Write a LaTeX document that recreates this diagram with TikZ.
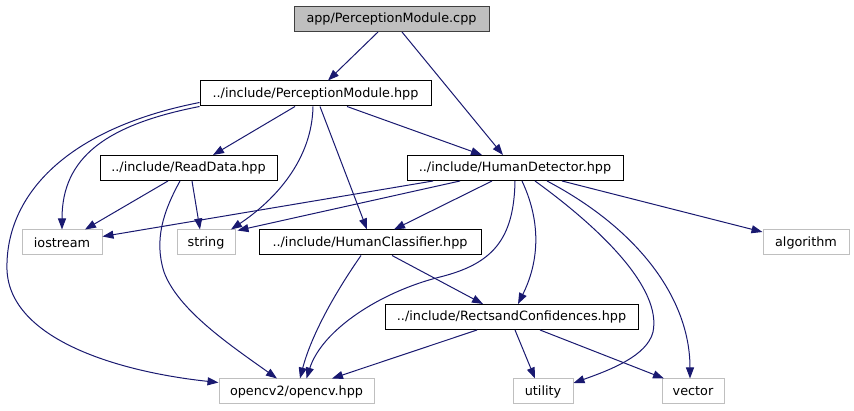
\documentclass[tikz,border=0pt]{standalone}
\usepackage{fontspec}
\setmainfont{DejaVu Sans}
\usepackage{xcolor}
\usetikzlibrary{arrows.meta,calc}
\definecolor{edge}{HTML}{191970}
\definecolor{extgray}{HTML}{BFBFBF}
\definecolor{curgray}{HTML}{404040}

\begin{document}
\begin{tikzpicture}[x=1pt,y=-1pt,font=\fontsize{12.8}{15}\selectfont,
  inc/.style={draw=black,line width=1pt,fill=white,inner sep=0pt,minimum height=25pt},
  ext/.style={draw=extgray,line width=1pt,fill=white,inner sep=0pt,minimum height=25pt},
  cur/.style={draw=curgray,line width=1pt,fill=extgray,inner sep=0pt,minimum height=25pt},
  arr/.style={-{Triangle[length=11pt,width=8pt]},edge,line width=1pt}]
\useasboundingbox (0,0) rectangle (854,411);
% files
\node[cur,minimum width=195pt] (cpp) at (391.5,19) {app/PerceptionModule.cpp};
\node[inc,minimum width=231pt] (pm) at (315.5,93.5) {../include/PerceptionModule.hpp};
\node[inc,minimum width=177pt] (rd) at (188.5,168) {../include/ReadData.hpp};
\node[inc,minimum width=216pt] (hd) at (515,168) {../include/HumanDetector.hpp};
\node[ext,minimum width=80pt] (ios) at (62,242.5) {iostream};
\node[ext,minimum width=58pt] (str) at (206,242.5) {string};
\node[inc,minimum width=222pt] (hc) at (370,242.5) {../include/HumanClassifier.hpp};
\node[ext,minimum width=86pt] (alg) at (806,242.5) {algorithm};
\node[inc,minimum width=253pt] (rc) at (511.5,317) {../include/RectsandConfidences.hpp};
\node[ext,minimum width=155pt] (cv) at (296.5,391.5) {opencv2/opencv.hpp};
\node[ext,minimum width=60pt] (ut) at (543,391.5) {utility};
\node[ext,minimum width=62pt] (vec) at (693,391.5) {vector};
% app/PerceptionModule.cpp
\draw[arr] ([xshift=-13.5]cpp.south) -- ([xshift=12.5]pm.north);
\draw[arr] ([xshift=10.5]cpp.south) -- ([xshift=-12]hd.north);
% PerceptionModule.hpp
\draw[arr] ([xshift=-20.5]pm.south) -- ([xshift=24.5]rd.north);
\draw[arr] ([xshift=31.5]pm.south) -- ([xshift=-33]hd.north);
\draw[arr] ([xshift=4.5]pm.south) -- ([xshift=-3]hc.north);
\draw[arr] ([xshift=-2.5]pm.south) .. controls (312,160) and (275,200) .. ([xshift=25]str.north);
\draw[arr] (pm.south west) .. controls (105,125) and (62,158) .. (ios.north);
\draw[arr] ([yshift=4]pm.south west) .. controls (60,130) and (5,200) .. (7,270)
  .. controls (10,340) and (120,372) .. ([yshift=9]cv.west);
% ReadData.hpp
\draw[arr] ([xshift=-20.5]rd.south) -- ([xshift=23]ios.north);
\draw[arr] ([xshift=3.5]rd.south) -- ([xshift=-6]str.north);
\draw[arr] ([xshift=-8.5]rd.south) .. controls (163,212) and (154,240) .. (164,272)
  .. controls (178,310) and (230,345) .. ([xshift=-19.5]cv.north);
% HumanDetector.hpp
\draw[arr] ([xshift=-82]hd.south) -- ([yshift=6]ios.east);
\draw[arr] ([xshift=-55]hd.south) -- ([xshift=2,yshift=-1]str.north east);
\draw[arr] ([xshift=-23]hd.south) -- ([xshift=24]hc.north);
\draw[arr] (hd.south) .. controls (514,240) and (492,264) .. (440,277)
  .. controls (380,292) and (322,330) .. ([xshift=10]cv.north);
\draw[arr] ([xshift=7]hd.south) .. controls (545,230) and (535,270) .. ([xshift=6.5]rc.north);
\draw[arr] ([xshift=20]hd.south) .. controls (600,228) and (662,288) .. (653,332)
  .. controls (647,356) and (610,370) .. ([yshift=8.5]ut.east);
\draw[arr] ([xshift=32]hd.south) .. controls (640,230) and (690,300) .. ([xshift=-3]vec.north);
\draw[arr] ([xshift=47]hd.south) -- ([yshift=10.5]alg.west);
% HumanClassifier.hpp
\draw[arr] ([xshift=22]hc.south) -- ([xshift=-28.5]rc.north);
\draw[arr] ([xshift=-9]hc.south) .. controls (330,300) and (310,340) .. ([xshift=3.5]cv.north);
% RectsandConfidences.hpp
\draw[arr] ([xshift=-34.5]rc.south) -- ([xshift=35.5]cv.north);
\draw[arr] ([xshift=3.5]rc.south) -- ([xshift=-8]ut.north);
\draw[arr] ([xshift=28.5]rc.south) -- ([xshift=-29]vec.north);
\end{tikzpicture}
\end{document}
